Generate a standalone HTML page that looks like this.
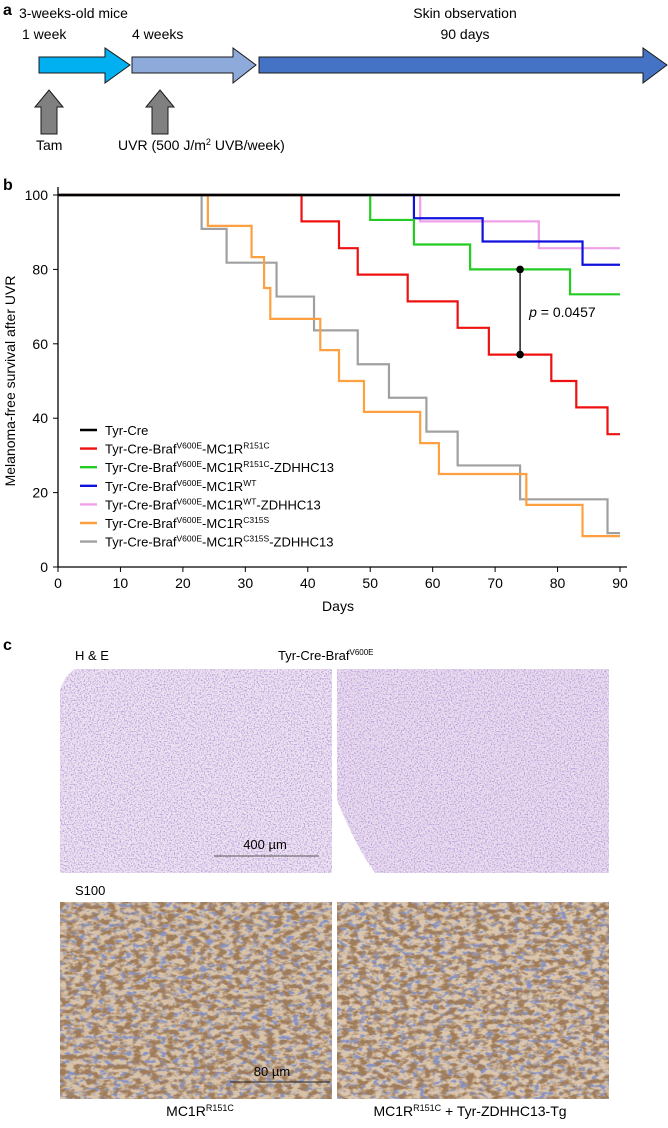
<!DOCTYPE html>
<html><head><meta charset="utf-8">
<style>
html,body{margin:0;padding:0;background:#fff;}
body{width:668px;height:1123px;overflow:hidden;font-family:"Liberation Sans",sans-serif;}
svg text{font-family:"Liberation Sans",sans-serif;}
</style></head>
<body>
<svg id="fig" width="668" height="1123" viewBox="0 0 668 1123" xmlns="http://www.w3.org/2000/svg">
<defs>
<filter id="heTex" x="0" y="0" width="100%" height="100%">
<feTurbulence type="fractalNoise" baseFrequency="0.7" numOctaves="2" seed="3" result="n"/>
<feColorMatrix in="n" type="matrix" values="0 0 0 0 0.45  0 0 0 0 0.35  0 0 0 0 0.7  0 0 0 -4 2.1" result="c"/>
<feComposite in="c" in2="SourceGraphic" operator="in"/>
</filter>
<filter id="s100Tex" x="0" y="0" width="100%" height="100%">
<feTurbulence type="fractalNoise" baseFrequency="0.12 0.2" numOctaves="3" seed="7" result="n"/>
<feColorMatrix in="n" type="matrix" values="0 0 0 0 0.35  0 0 0 0 0.2  0 0 0 0 0.1  0 0 0 -4 2.3" result="c"/>
<feComposite in="c" in2="SourceGraphic" operator="in"/>
</filter>
<filter id="blueTex" x="0" y="0" width="100%" height="100%">
<feTurbulence type="fractalNoise" baseFrequency="0.15 0.25" numOctaves="2" seed="11" result="n"/>
<feColorMatrix in="n" type="matrix" values="0 0 0 0 0.25  0 0 0 0 0.3  0 0 0 0 0.55  0 0 0 -5 2.6" result="c"/>
<feComposite in="c" in2="SourceGraphic" operator="in"/>
</filter>
</defs>

<g>
<text x="3" y="15" font-size="16" font-weight="bold">a</text>
<text x="19" y="18" font-size="14">3-weeks-old mice</text>
<text x="22" y="39" font-size="14">1 week</text>
<text x="132" y="39" font-size="14">4 weeks</text>
<text x="465" y="18" font-size="14" text-anchor="middle">Skin observation</text>
<text x="465" y="39" font-size="14" text-anchor="middle">90 days</text>
<polygon points="39,57 105,57 105,48 130,65 105,83 105,73 39,73" fill="#00b0f0" stroke="#1a1a1a" stroke-width="1"/>
<polygon points="132,57 233,57 233,48 256,65 233,83 233,73 132,73" fill="#8eaadb" stroke="#1a1a1a" stroke-width="1"/>
<polygon points="259,57 643,57 643,48 667,65 643,83 643,73 259,73" fill="#4472c4" stroke="#1a1a1a" stroke-width="1"/>
<polygon points="49,90 63,107 57,107 57,134 41,134 41,107 35,107" fill="#808080" stroke="#1a1a1a" stroke-width="1"/>
<polygon points="160,90 174,107 168,107 168,134 152,134 152,107 146,107" fill="#808080" stroke="#1a1a1a" stroke-width="1"/>
<text x="36" y="150" font-size="14">Tam</text>
<text x="118" y="150" font-size="14">UVR (500 J/m<tspan dy="-5" font-size="9">2</tspan><tspan dy="5"> UVB/week)</tspan></text>
</g>

<text x="3" y="190" font-size="16" font-weight="bold">b</text>
<g id="chart"></g>

<g>
<text x="3" y="650" font-size="16" font-weight="bold">c</text>
<text x="75" y="660" font-size="13">H &amp; E</text>
<text x="278" y="660" font-size="13">Tyr-Cre-Braf<tspan dy="-5" font-size="8">V600E</tspan></text>
<g>
<rect x="60" y="669" width="272" height="204" fill="#efe2f1"/>
<rect x="60" y="669" width="272" height="204" fill="#fff" filter="url(#heTex)"/>
<path d="M60,669 L75,669 Q65,675 60,690 Z" fill="#fff"/>
</g>
<g>
<rect x="337" y="669" width="272" height="204" fill="#ecdcef"/>
<rect x="337" y="669" width="272" height="204" fill="#fff" filter="url(#heTex)"/>
<path d="M337,800 Q355,845 375,873 L337,873 Z" fill="#fff"/>
</g>
<text x="265" y="849" font-size="13" text-anchor="middle">400 µm</text>
<line x1="214" y1="856" x2="319" y2="856" stroke="#555" stroke-width="1"/>
<text x="75" y="895" font-size="13">S100</text>
<g>
<rect x="60" y="902" width="272" height="197" fill="#d9c3a8"/>
<rect x="60" y="902" width="272" height="197" fill="#fff" filter="url(#blueTex)"/>
<rect x="60" y="902" width="272" height="197" fill="#fff" filter="url(#s100Tex)"/>
</g>
<g>
<rect x="337" y="902" width="272" height="197" fill="#dcc6ab"/>
<rect x="337" y="902" width="272" height="197" fill="#fff" filter="url(#blueTex)"/>
<rect x="337" y="902" width="272" height="197" fill="#fff" filter="url(#s100Tex)"/>
</g>
<text x="272" y="1076" font-size="13" text-anchor="middle">80 µm</text>
<line x1="230" y1="1082" x2="330" y2="1082" stroke="#222" stroke-width="1"/>
<text x="200" y="1116" font-size="14" text-anchor="middle">MC1R<tspan dy="-5" font-size="9">R151C</tspan></text>
<text x="470" y="1116" font-size="14" text-anchor="middle">MC1R<tspan dy="-5" font-size="9">R151C</tspan><tspan dy="5"> + Tyr-ZDHHC13-Tg</tspan></text>
</g>
</svg>
<script>
const xTicks = [0,10,20,30,40,50,60,70,80,90];
const yTicks = [0,20,40,60,80,100];
const seriesNames = ["Tyr-Cre","R151C","R151C-ZDHHC13","WT","WT-ZDHHC13","C315S","C315S-ZDHHC13"];
const seriesColors = ["#000000","#ee1111","#22cc22","#1111dd","#f0a0e8","#ffa040","#a0a0a0"];
const tyrCreDays = [];
const tyrCreVals = [];
const r151cDays = [39,45,48,56,64,69,79,83,88];
const r151cVals = [92.9,85.7,78.6,71.4,64.3,57.1,50,42.9,35.7];
const r151cZDays = [50,57,66,82];
const r151cZVals = [93.3,86.7,80,73.3];
const wtDays = [57,68,84];
const wtVals = [93.75,87.5,81.25];
const wtZDays = [58,77];
const wtZVals = [92.9,85.7];
const c315sDays = [24,31,33,34,42,45,49,58,61,75,84];
const c315sVals = [91.7,83.3,75,66.7,58.3,50,41.7,33.3,25,16.7,8.3];
const c315sZDays = [23,27,35,41,48,53,59,64,74,88];
const c315sZVals = [90.9,81.8,72.7,63.6,54.5,45.5,36.4,27.3,18.2,9.1];
const pDay = 74;
const pTop = 80;
const pBottom = 57.1;
const pLabel = "0.0457";

const NS="http://www.w3.org/2000/svg";
const chart=document.getElementById('chart');
const X=d=>58+(d/90)*562;
const Y=v=>567-(v/100)*372;
function mk(tag,attrs,parent){const e=document.createElementNS(NS,tag);for(const k in attrs)e.setAttribute(k,attrs[k]);(parent||chart).appendChild(e);return e;}

const yAxis=mk('line',{x1:X(0),y1:Y(100)-8,x2:X(0),y2:Y(0),stroke:'#000','stroke-width':1.3});


const xAxis=mk('line',{x1:X(0),y1:Y(0),x2:X(90)+7,y2:Y(0),stroke:'#000','stroke-width':1.3});


yTicks.forEach(v=>{
  const t=mk('line',{x1:X(0)-5,y1:Y(v),x2:X(0),y2:Y(v),stroke:'#000'});
  
  
  const l=mk('text',{x:X(0)-10,y:Y(v)+5,'font-size':14,'text-anchor':'end'});
  l.textContent=v;
  
  
});
xTicks.forEach(v=>{
  const t=mk('line',{x1:X(v),y1:Y(0),x2:X(v),y2:Y(0)+5,stroke:'#000'});
  
  
  const l=mk('text',{x:X(v),y:Y(0)+21,'font-size':14,'text-anchor':'middle'});
  l.textContent=v;
  
  
});
const xt=mk('text',{x:338,y:611,'font-size':14,'text-anchor':'middle'});
xt.textContent='Days';


const yt=mk('text',{x:0,y:0,'font-size':14,'text-anchor':'middle',transform:'translate(15,381) rotate(-90)'});
yt.textContent='Melanoma-free survival after UVR';



const allDays=[tyrCreDays,r151cDays,r151cZDays,wtDays,wtZDays,c315sDays,c315sZDays];
const allVals=[tyrCreVals,r151cVals,r151cZVals,wtVals,wtZVals,c315sVals,c315sZVals];
const drawOrder=[6,5,4,3,2,1,0];
drawOrder.forEach(i=>{
  const days=allDays[i],vals=allVals[i];
  let d='M'+X(0)+','+Y(100);let prev=100;
  days.forEach((dd,j)=>{d+=' L'+X(dd)+','+Y(prev)+' L'+X(dd)+','+Y(vals[j]);prev=vals[j];});
  d+=' L'+X(90)+','+Y(prev);
  const p=mk('path',{d:d,fill:'none',stroke:seriesColors[i],'stroke-width':i==0?2.4:2.2});
  
  
});

const pl=mk('line',{x1:X(pDay),y1:Y(pTop),x2:X(pDay),y2:Y(pBottom),stroke:'#000','stroke-width':1.3});


[pTop,pBottom].forEach(v=>{
  const c=mk('circle',{cx:X(pDay),cy:Y(v),r:3.8,fill:'#000'});
  
  
});
const pt=mk('text',{x:X(pDay)+9,y:Y((pTop+pBottom)/2)+5,'font-size':14});
pt.innerHTML='<tspan font-style="italic">p</tspan> = '+pLabel;



const legendLabels=[
 'Tyr-Cre',
 'Tyr-Cre-Braf<tspan dy="-5" font-size="8.5">V600E</tspan><tspan dy="5">-MC1R</tspan><tspan dy="-5" font-size="8.5">R151C</tspan>',
 'Tyr-Cre-Braf<tspan dy="-5" font-size="8.5">V600E</tspan><tspan dy="5">-MC1R</tspan><tspan dy="-5" font-size="8.5">R151C</tspan><tspan dy="5">-ZDHHC13</tspan>',
 'Tyr-Cre-Braf<tspan dy="-5" font-size="8.5">V600E</tspan><tspan dy="5">-MC1R</tspan><tspan dy="-5" font-size="8.5">WT</tspan>',
 'Tyr-Cre-Braf<tspan dy="-5" font-size="8.5">V600E</tspan><tspan dy="5">-MC1R</tspan><tspan dy="-5" font-size="8.5">WT</tspan><tspan dy="5">-ZDHHC13</tspan>',
 'Tyr-Cre-Braf<tspan dy="-5" font-size="8.5">V600E</tspan><tspan dy="5">-MC1R</tspan><tspan dy="-5" font-size="8.5">C315S</tspan>',
 'Tyr-Cre-Braf<tspan dy="-5" font-size="8.5">V600E</tspan><tspan dy="5">-MC1R</tspan><tspan dy="-5" font-size="8.5">C315S</tspan><tspan dy="5">-ZDHHC13</tspan>'
];
legendLabels.forEach((lab,i)=>{
  const y=430+i*18.6;
  const g=mk('g',{});
  
  
  mk('line',{x1:80,y1:y,x2:97,y2:y,stroke:seriesColors[i],'stroke-width':2.4},g);
  const t=mk('text',{x:105,y:y+5,'font-size':13},g);
  t.innerHTML=lab;
});
</script>
</body></html>
